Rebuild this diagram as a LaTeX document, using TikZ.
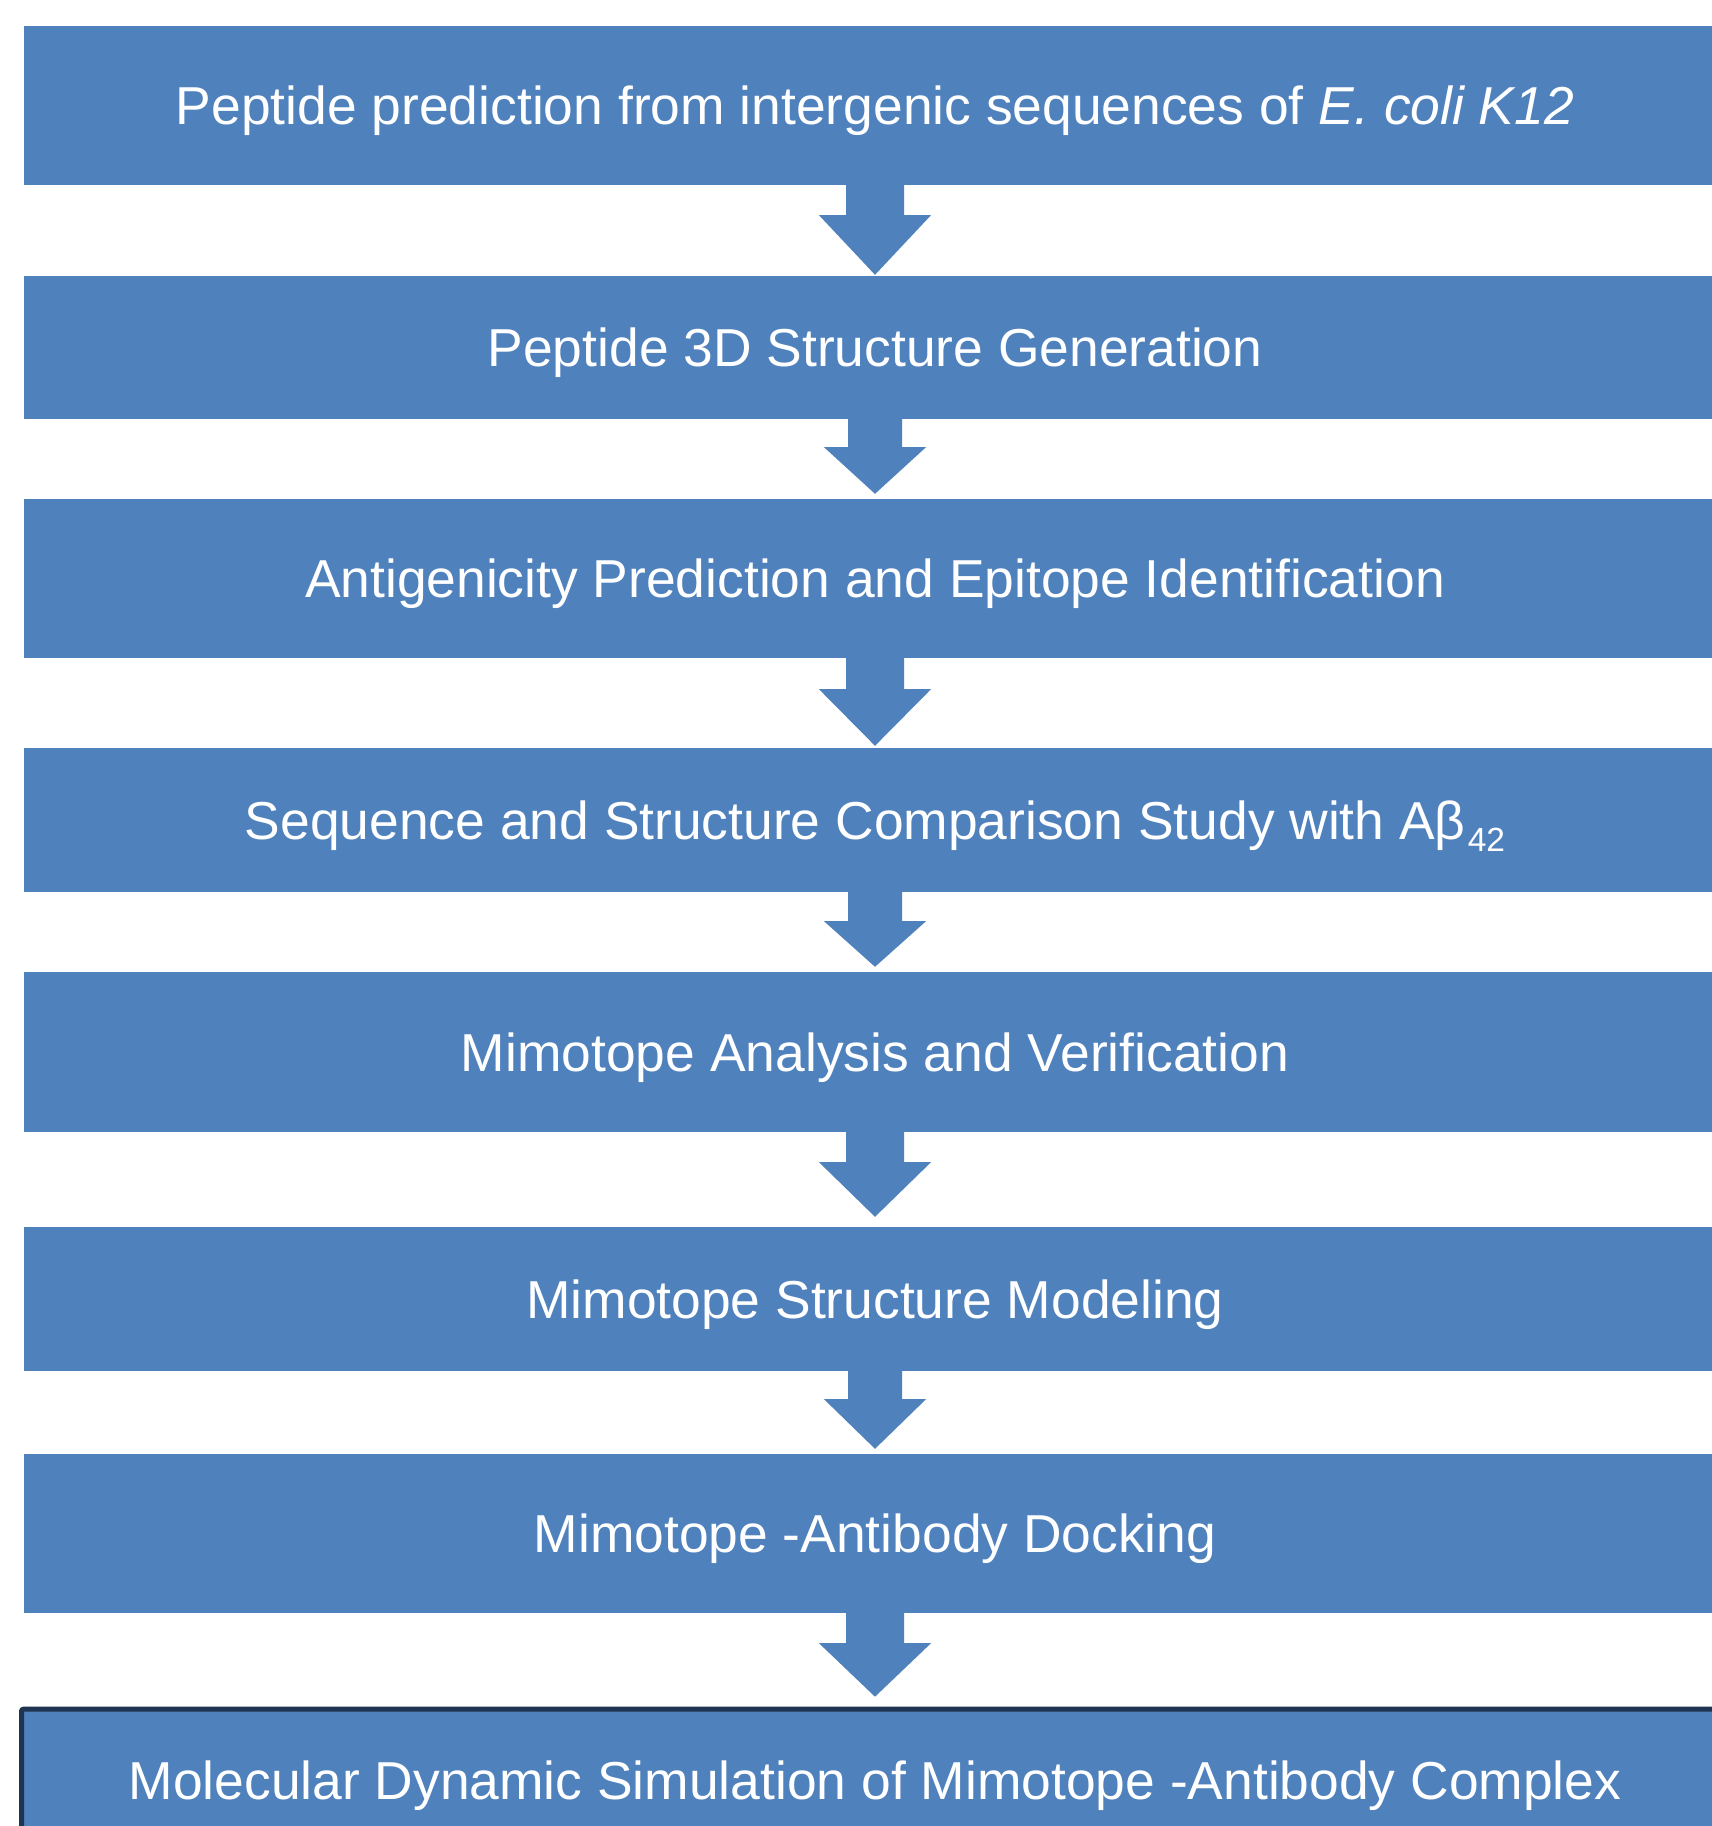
\documentclass[tikz,border=0pt]{standalone}
\usepackage{fontspec}
\setmainfont{Liberation Sans}
\usetikzlibrary{calc}
\definecolor{boxblue}{HTML}{4F81BD}
\definecolor{navy}{HTML}{1E3450}
\begin{document}
\begin{tikzpicture}[x=1pt,y=-1pt,
  stepbox/.style={fill=boxblue, draw=none, inner sep=0pt, minimum width=1702pt,
    text=white, text height=38.2pt, text depth=0pt,
    font=\fontsize{53.4}{60}\selectfont},
  lastbox/.style={stepbox, draw=navy, line width=5pt, rounded corners=2pt, minimum width=1707pt},
  arrowfill/.style={fill=boxblue}]
\useasboundingbox (0,0) rectangle (1712,1826);
\clip (0,0) rectangle (1712,1826);
\fill[white] (0,0) rectangle (1712,1826);

\node[stepbox, minimum height=159pt] (b1) at (875,105.5) {Peptide prediction from intergenic sequences of \textit{E. coli K12}};
\node[stepbox, minimum height=143pt] (b2) at (875,347.5) {Peptide 3D Structure Generation};
\node[stepbox, minimum height=159pt] (b3) at (875,578.5) {Antigenicity Prediction and Epitope Identification};
\node[stepbox, minimum height=144pt] (b4) at (875,820) {Sequence and Structure Comparison Study with Aβ\kern2pt\raisebox{-12pt}{\fontsize{33.5}{36}\selectfont 42}};
\node[stepbox, minimum height=160pt] (b5) at (875,1052) {Mimotope Analysis and Verification};
\node[stepbox, minimum height=144pt] (b6) at (875,1299) {Mimotope Structure Modeling};
\node[stepbox, minimum height=159pt] (b7) at (875,1533.5) {Mimotope -Antibody Docking};
\node[lastbox, minimum height=142.6pt] (b8) at (875,1780.5) {Molecular Dynamic Simulation of Mimotope -Antibody Complex};

% big block arrows: half shaft 29, half head 56
\newcommand\bigarrow[4]{% #1 from node, #2 to node, #3 shaft length, #4 gap of tip above next box
  \fill[arrowfill] ($(#1.south)+(-29,-1)$) -- ($(#1.south)+(-29,#3)$) -- ($(#1.south)+(-56,#3)$)
    -- ($(#2.north)+(0,-#4)$) -- ($(#1.south)+(56,#3)$) -- ($(#1.south)+(29,#3)$)
    -- ($(#1.south)+(29,-1)$) -- cycle;}
\newcommand\smallarrow[4]{%
  \fill[arrowfill] ($(#1.south)+(-27,-1)$) -- ($(#1.south)+(-27,#3)$) -- ($(#1.south)+(-51,#3)$)
    -- ($(#2.north)+(0,-#4)$) -- ($(#1.south)+(51,#3)$) -- ($(#1.south)+(27,#3)$)
    -- ($(#1.south)+(27,-1)$) -- cycle;}
\bigarrow{b1}{b2}{30}{1}
\smallarrow{b2}{b3}{28}{5}
\bigarrow{b3}{b4}{31}{2}
\smallarrow{b4}{b5}{29}{5}
\bigarrow{b5}{b6}{30}{10}
\smallarrow{b6}{b7}{28}{5}
\bigarrow{b7}{b8}{30}{10}
\end{tikzpicture}
\end{document}
